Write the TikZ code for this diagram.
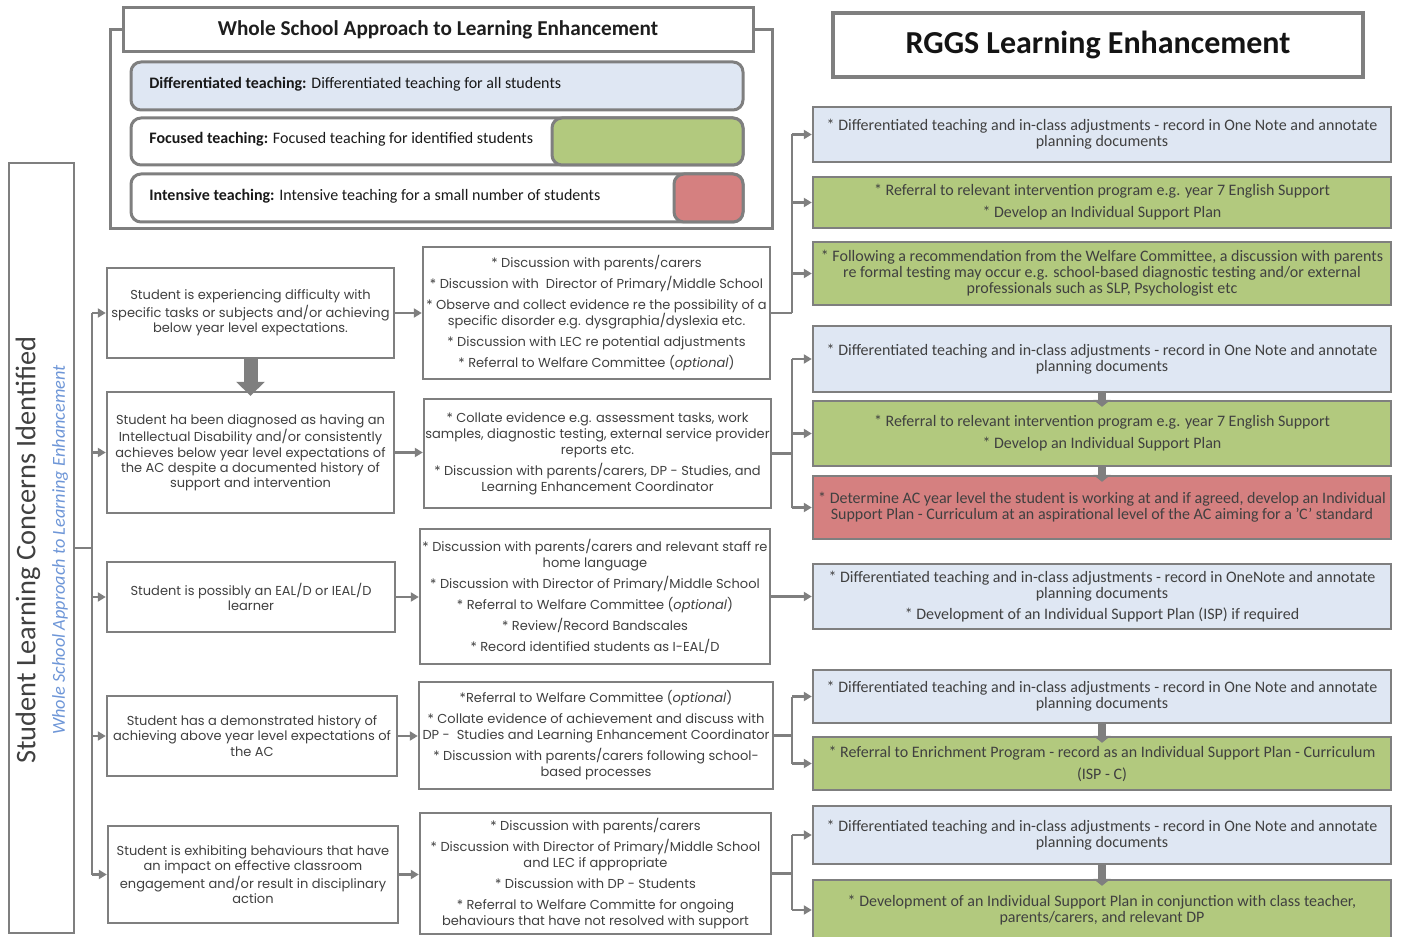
\documentclass[tikz,border=0pt]{standalone}
\usepackage{fontspec}
\setmainfont{Carlito}
\newfontfamily\geo{Poppins}
\usetikzlibrary{arrows.meta}
\definecolor{bordc}{RGB}{127,127,127}
\definecolor{txt}{RGB}{64,64,64}
\definecolor{bluef}{RGB}{223,231,243}
\definecolor{greenf}{RGB}{178,201,126}
\definecolor{redf}{RGB}{213,128,128}
\definecolor{subblue}{RGB}{110,150,215}
\newcommand\bx[7]{\node[#6, minimum width={(#4-#2)*0.5pt}, minimum height={(#5-#3)*0.5pt}] (#1) at ({(#2+#4)/2},{(#3+#5)/2}) {#7};}
\tikzset{
  bord/.style={draw=bordc, line width=1.2pt},
  sbox/.style={bord, fill=white, inner sep=0pt, align=center, text=txt, font={\geo\fontsize{6.5}{7.6}\selectfont}},
  mbox/.style={bord, fill=white, inner sep=0pt, align=center, text=txt, font={\geo\fontsize{6.5}{8}\selectfont}},
  rbox/.style={bord, inner sep=0pt, align=center, text=txt, font={\fontsize{8}{8}\selectfont}},
  legbox/.style={draw=bordc, line width=1.5pt, rounded corners=5pt, inner sep=0pt},
  conn/.style={draw=bordc, line width=1.3pt},
  arr/.style={conn, -{Triangle[length=4pt,width=4.5pt]}},
  bigarr/.style={draw=bordc, line width=7pt, -{Triangle[length=7pt,width=14pt]}},
  downarr/.style={draw=bordc, line width=4pt, -{Triangle[length=3.5pt,width=8.5pt]}},
}
\begin{document}
\begin{tikzpicture}[x=0.5pt,y=-0.5pt]
\useasboundingbox (0,0) rectangle (1401,936);
% ---------- legend group
\bx{wsframe}{110}{30}{772}{229}{draw=bordc, line width=1.5pt}{}
\bx{wstitle}{123}{8}{753}{52}{draw=bordc, line width=1.5pt, fill=white, inner sep=0pt, font={\bfseries\fontsize{10.6}{12}\selectfont}, text={rgb,255:red,30;green,30;blue,30}}{Whole School Approach to Learning Enhancement}
\bx{ldiff}{131}{62}{743}{110}{legbox, fill=bluef}{}
\bx{lfoc}{131}{118}{743}{165}{legbox, fill=white}{}
\bx{lfocg}{552}{118}{743}{165}{legbox, fill=greenf}{}
\bx{lint}{131}{174}{743}{222}{legbox, fill=white}{}
\bx{lintr}{674}{174}{743}{222}{legbox, fill=redf}{}
\tikzset{legtxt/.style={anchor=west, inner sep=0pt, font={\fontsize{8}{9}\selectfont}, text={rgb,255:red,25;green,25;blue,25}}}
\node[legtxt] (tdiff) at (149,84) {\textbf{Differentiated teaching:} Differentiated teaching for all students};
\node[legtxt] (tfoc) at (149,139) {\textbf{Focused teaching:} Focused teaching for identified students};
\node[legtxt] (tint) at (149,196) {\textbf{Intensive teaching:} Intensive teaching for a small number of students};
% ---------- RGGS title
\bx{rggs}{833}{13}{1363}{77}{draw=bordc, line width=1.6pt, fill=white, inner sep=0pt, font={\bfseries\fontsize{16}{18}\selectfont}, text={rgb,255:red,20;green,20;blue,20}}{RGGS Learning Enhancement}
% ---------- left tall box
\bx{lc}{9}{163}{74}{933}{draw=bordc, line width=1.2pt}{}
\node[rotate=90, inner sep=0pt, text=txt, font={\fontsize{14.2}{16}\selectfont}] (lctitle) at (28,550) {Student Learning Concerns Identified};
\node[rotate=90, inner sep=0pt, text=subblue, font={\itshape\fontsize{9.15}{10}\selectfont}] (lcsub) at (60,550) {Whole School Approach to Learning Enhancement};
% ---------- student boxes
\bx{s1}{107}{268}{394}{358}{sbox}{Student is experiencing difficulty with\\ specific tasks or subjects and/or achieving\\ below year level expectations.}
\bx{s2}{107}{392}{394}{513}{sbox}{Student ha been diagnosed as having an\\ Intellectual Disability and/or consistently\\ achieves below year level expectations of\\ the AC despite a documented history of\\ support and intervention}
\bx{s3}{107}{562}{395}{632}{sbox}{Student is possibly an EAL/D or IEAL/D\\ learner}
\bx{s4}{107}{696}{397}{776}{sbox}{Student has a demonstrated history of\\ achieving above year level expectations of\\ the AC}
\bx{s5}{108}{826}{398}{923}{sbox}{Student is exhibiting behaviours that have\\ an impact on effective classroom\\ engagement and/or result in disciplinary\\ action}
% ---------- middle boxes
\bx{m1}{423}{247}{770}{379}{mbox}{* Discussion with parents/carers\\[2.5pt] * Discussion with\ \ Director of Primary/Middle School\\[2.5pt] * Observe and collect evidence re the possibility of a\\ specific disorder e.g. dysgraphia/dyslexia etc.\\[2.5pt] * Discussion with LEC re potential adjustments\\[2.5pt] * Referral to Welfare Committee (\emph{optional})}
\bx{m2}{424}{399}{771}{508}{mbox}{* Collate evidence e.g. assessment tasks, work\\ samples, diagnostic testing, external service provider\\ reports etc.\\[2.5pt] * Discussion with parents/carers, DP - Studies, and\\ Learning Enhancement Coordinator}
\bx{m3}{420}{529}{770}{664}{mbox}{* Discussion with parents/carers and relevant staff re\\ home language\\[2.5pt] * Discussion with Director of Primary/Middle School\\[2.5pt] * Referral to Welfare Committee (\emph{optional})\\[2.5pt] * Review/Record Bandscales\\[2.5pt] * Record identified students as I-EAL/D}
\bx{m4}{419}{682}{773}{789}{mbox}{*Referral to Welfare Committee (\emph{optional})\\[2.5pt] * Collate evidence of achievement and discuss with\\ DP -\ \ Studies and Learning Enhancement Coordinator\\[2.5pt] * Discussion with parents/carers following school-\\ based processes}
\bx{m5}{420}{813}{771}{934}{mbox}{* Discussion with parents/carers\\[2.5pt] * Discussion with Director of Primary/Middle School\\ and LEC if appropriate\\[2.5pt] * Discussion with DP - Students\\[2.5pt] * Referral to Welfare Committe for ongoing\\ behaviours that have not resolved with support}
% ---------- right boxes
\bx{r1a}{813}{107}{1391}{162}{rbox, fill=bluef}{* Differentiated teaching and in-class adjustments - record in One Note and annotate\\ planning documents}
\bx{r1b}{813}{177}{1391}{228}{rbox, fill=greenf}{* Referral to relevant intervention program e.g. year 7 English Support\\[3pt] * Develop an Individual Support Plan}
\bx{r1c}{813}{242}{1391}{305}{rbox, fill=greenf}{* Following a recommendation from the Welfare Committee, a discussion with parents\\ re formal testing may occur e.g. school-based diagnostic testing and/or external\\ professionals such as SLP, Psychologist etc}
\bx{r2a}{813}{326}{1391}{392}{rbox, fill=bluef}{* Differentiated teaching and in-class adjustments - record in One Note and annotate\\ planning documents}
\bx{r2b}{813}{401}{1391}{466}{rbox, fill=greenf}{* Referral to relevant intervention program e.g. year 7 English Support\\[3pt] * Develop an Individual Support Plan}
\bx{r2c}{813}{476}{1391}{539}{rbox, fill=redf}{* Determine AC year level the student is working at and if agreed, develop an Individual\\ Support Plan - Curriculum at an aspirational level of the AC aiming for a 'C' standard}
\bx{r3}{813}{564}{1391}{629}{rbox, fill=bluef}{* Differentiated teaching and in-class adjustments - record in OneNote and annotate\\ planning documents\\[2.5pt] * Development of an Individual Support Plan (ISP) if required}
\bx{r4a}{813}{670}{1391}{723}{rbox, fill=bluef}{* Differentiated teaching and in-class adjustments - record in One Note and annotate\\ planning documents}
\bx{r4b}{813}{737}{1391}{790}{rbox, fill=greenf}{* Referral to Enrichment Program - record as an Individual Support Plan - Curriculum\\[3pt] (ISP - C)}
\bx{r5a}{813}{806}{1391}{864}{rbox, fill=bluef}{* Differentiated teaching and in-class adjustments - record in One Note and annotate\\ planning documents}
\bx{r5b}{813}{880}{1391}{940}{rbox, fill=greenf}{* Development of an Individual Support Plan in conjunction with class teacher,\\ parents/carers, and relevant DP}
% ---------- left trunk
\coordinate (tj) at (92,548);
\coordinate (t1) at (92,313);
\coordinate (t5) at (92,875);
\draw[conn] (lc.east) -- (tj);
\draw[conn] (t1) -- (t5);
\foreach \s in {s1,s2,s3,s4,s5} {\draw[arr] (tj |- \s.west) -- (\s.west);}
% ---------- student -> middle
\foreach \s/\m in {s1/m1,s2/m2,s3/m3,s4/m4,s5/m5} {\draw[arr] (\s.east) -- (\s.east -| \m.west);}
\draw[bigarr] (s1.south) -- ([yshift=-2.5pt]s2.north);
% ---------- middle -> right
\coordinate (jx) at (792,0);
\draw[conn] (m1.east) -- (jx |- m1.east);
\draw[conn] (jx |- r1a.west) -- (jx |- m1.east);
\foreach \r in {r1a,r1b,r1c} {\draw[arr] (jx |- \r.west) -- (\r.west);}
\draw[conn] (m2.east) -- (jx |- m2.east);
\draw[conn] (jx |- r2a.west) -- (jx |- r2c.west);
\foreach \r in {r2a,r2b,r2c} {\draw[arr] (jx |- \r.west) -- (\r.west);}
\draw[arr] (m3.east) -- (m3.east -| r3.west);
\draw[conn] (m4.east) -- (jx |- m4.east);
\draw[conn] (jx |- r4a.west) -- (jx |- r4b.west);
\foreach \r in {r4a,r4b} {\draw[arr] (jx |- \r.west) -- (\r.west);}
\draw[conn] (m5.east) -- (jx |- m5.east);
\draw[conn] (jx |- r5a.west) -- (jx |- 0,910);
\draw[arr] (jx |- r5a.west) -- (r5a.west);
\draw[arr] (jx |- 0,910) -- (r5b.west |- 0,910);
% ---------- small down arrows
\draw[downarr] (r2a.south) -- ([yshift=-3.5pt]r2b.north);
\draw[downarr] (r2b.south) -- ([yshift=-3.5pt]r2c.north);
\draw[downarr] (r4a.south) -- ([yshift=-3.5pt]r4b.north);
\draw[downarr] (r5a.south) -- ([yshift=-3.5pt]r5b.north);
\end{tikzpicture}
\end{document}
